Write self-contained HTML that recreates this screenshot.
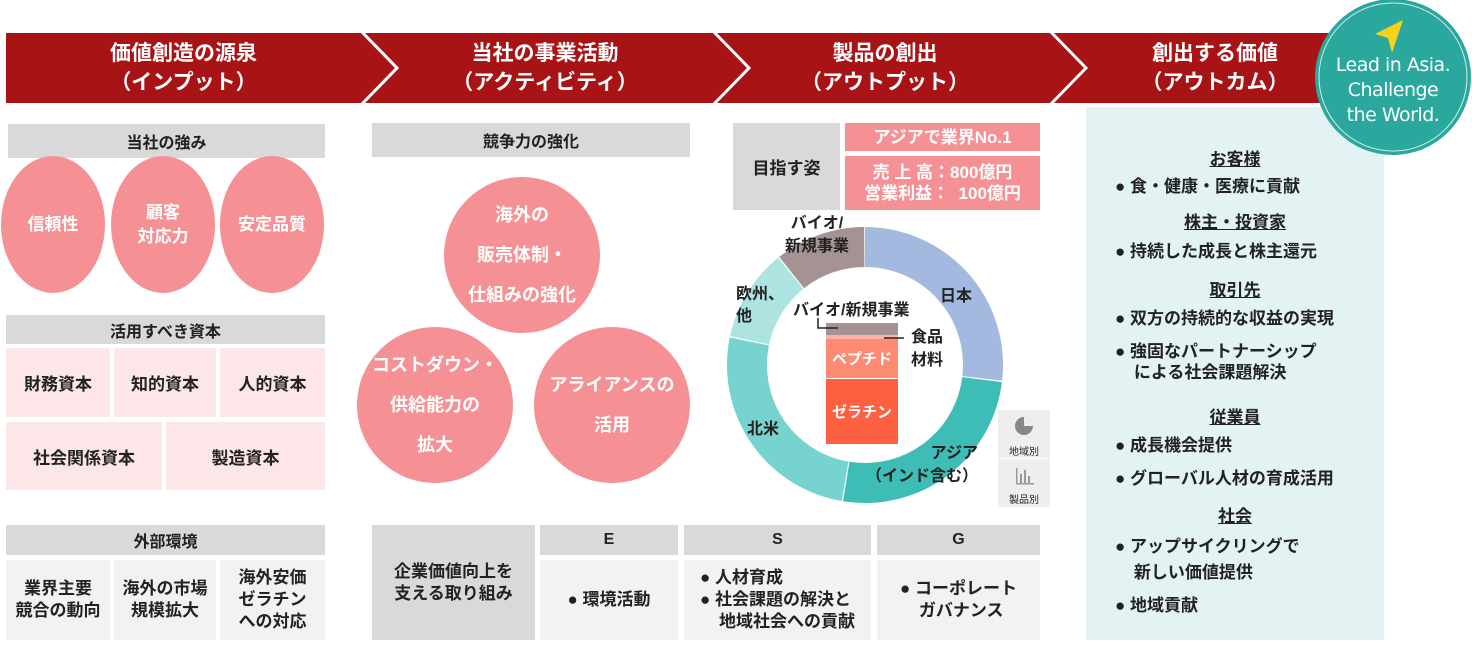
<!DOCTYPE html>
<html><head><meta charset="utf-8"><style>
body{margin:0;width:1472px;height:645px;background:#fff;font-family:"Liberation Sans","Noto Sans CJK JP",sans-serif;font-weight:bold;color:#222;position:relative;overflow:hidden}
.a{position:absolute;display:flex;align-items:center;justify-content:center;text-align:center;box-sizing:border-box}
.g{background:#d9d9d9;font-size:16px}
.pc{background:#fce6e7;font-size:17px}
.lc{background:#f2f2f2;font-size:16px;line-height:22px}
.c{background:#f59194;color:#fff;border-radius:50%;font-size:17px;line-height:24px}
.big{font-size:18px;line-height:40px}
.pk{background:#f59194;color:#fff;font-size:17px;line-height:21px}
.h{color:#fff;font-size:21px;line-height:29px}
.r{position:absolute;left:1115px;font-size:17px;line-height:21px}
.rc{position:absolute;left:1086px;width:298px;text-align:center;text-decoration:underline;font-size:17px}
</style></head><body>
<svg width="1472" height="645" style="position:absolute;left:0;top:0">
<rect x="6" y="33" width="1330" height="70" fill="#a81416"/>
<polyline points="361,31 397,68 361,105" fill="none" stroke="#fff" stroke-width="3"/>
<polyline points="713,31 749,68 713,105" fill="none" stroke="#fff" stroke-width="3"/>
<polyline points="1050,31 1086,68 1050,105" fill="none" stroke="#fff" stroke-width="3"/>
<rect x="1086" y="107" width="298" height="533" fill="#e3f3f3"/>
<g transform="rotate(-90 865 365)" fill="none" stroke-width="40">
<circle cx="865" cy="365" r="118" stroke="#a3b9e0" stroke-dasharray="198.8 543" stroke-dashoffset="0"/>
<circle cx="865" cy="365" r="118" stroke="#3dbdb5" stroke-dasharray="189.4 552" stroke-dashoffset="-200"/>
<circle cx="865" cy="365" r="118" stroke="#77d3cf" stroke-dasharray="189 552" stroke-dashoffset="-390.6"/>
<circle cx="865" cy="365" r="118" stroke="#ade3e1" stroke-dasharray="80 661" stroke-dashoffset="-580.8"/>
<circle cx="865" cy="365" r="118" stroke="#a49392" stroke-dasharray="78.4 663" stroke-dashoffset="-662"/>
</g>
<rect x="826" y="323" width="72" height="12" fill="#a49392"/>
<rect x="826" y="335" width="72" height="4" fill="#fdb3a5"/>
<rect x="826" y="339" width="72" height="39" fill="#fd8b73"/>
<rect x="826" y="379" width="72" height="65" fill="#fd6141"/>
<polyline points="818,318 818,328 838,328" fill="none" stroke="#222" stroke-width="1.5"/>
<line x1="884" y1="338" x2="904" y2="338" stroke="#222" stroke-width="1.5"/>
<rect x="998" y="410" width="52" height="48" fill="#eee"/>
<rect x="998" y="459" width="52" height="48" fill="#eee"/>
<circle cx="1024" cy="426" r="9" fill="#888"/>
<path d="M1024 426 L1024 417 A9 9 0 0 1 1033 426 Z" fill="#eee"/>
<g fill="#999"><rect x="1016" y="468" width="1.5" height="16"/><rect x="1016" y="483" width="18" height="1.5"/><rect x="1020" y="474" width="2" height="9"/><rect x="1024" y="470" width="2" height="13"/><rect x="1028" y="476" width="2" height="7"/></g>
<circle cx="1393" cy="77" r="78" fill="#2aa89e"/>
<circle cx="1393" cy="77" r="74" fill="none" stroke="#fff" stroke-width="1" opacity=".8"/>
<polygon points="1403,20 1375,34 1388,38 1392,53" fill="#f7d218"/>
</svg>
<div class="a h" style="left:6px;top:37px;width:355px;height:62px">価値創造の源泉<br>（インプット）</div>
<div class="a h" style="left:370px;top:37px;width:350px;height:62px">当社の事業活動<br>（アクティビティ）</div>
<div class="a h" style="left:720px;top:37px;width:330px;height:62px">製品の創出<br>（アウトプット）</div>
<div class="a h" style="left:1070px;top:37px;width:290px;height:62px">創出する価値<br>（アウトカム）</div>
<div class="a" style="left:1315px;top:48px;width:156px;height:84px;color:#fff;font-family:'DejaVu Sans',sans-serif;font-weight:normal;font-size:19px;line-height:25px;letter-spacing:-0.5px">Lead in Asia.<br>Challenge<br>the World.</div>

<div class="a g" style="left:8px;top:124px;width:317px;height:34px">当社の強み</div>
<div class="a c" style="left:1px;top:156px;width:104px;height:137px">信頼性</div>
<div class="a c" style="left:111px;top:156px;width:104px;height:137px">顧客<br>対応力</div>
<div class="a c" style="left:220px;top:156px;width:104px;height:137px">安定品質</div>
<div class="a g" style="left:6px;top:315px;width:319px;height:29px">活用すべき資本</div>
<div class="a pc" style="left:6px;top:348px;width:104px;height:69px">財務資本</div>
<div class="a pc" style="left:114px;top:348px;width:102px;height:69px">知的資本</div>
<div class="a pc" style="left:220px;top:348px;width:105px;height:69px">人的資本</div>
<div class="a pc" style="left:6px;top:422px;width:156px;height:68px">社会関係資本</div>
<div class="a pc" style="left:166px;top:422px;width:159px;height:68px">製造資本</div>
<div class="a g" style="left:6px;top:525px;width:319px;height:30px">外部環境</div>
<div class="a lc" style="left:6px;top:560px;width:104px;height:80px;font-size:17px">業界主要<br>競合の動向</div>
<div class="a lc" style="left:114px;top:560px;width:102px;height:80px;font-size:17px">海外の市場<br>規模拡大</div>
<div class="a lc" style="left:220px;top:560px;width:105px;height:80px;font-size:17px">海外安価<br>ゼラチン<br>への対応</div>

<div class="a g" style="left:372px;top:123px;width:318px;height:34px">競争力の強化</div>
<div class="a c big" style="left:444px;top:177px;width:156px;height:156px">海外の<br>販売体制・<br>仕組みの強化</div>
<div class="a c big" style="left:357px;top:327px;width:156px;height:156px">コストダウン・<br>供給能力の<br>拡大</div>
<div class="a c big" style="left:534px;top:327px;width:156px;height:156px">アライアンスの<br>活用</div>
<div class="a g" style="left:372px;top:525px;width:163px;height:115px;line-height:22px;font-size:17px">企業価値向上を<br>支える取り組み</div>
<div class="a g" style="left:540px;top:525px;width:138px;height:30px">E</div>
<div class="a g" style="left:684px;top:525px;width:187px;height:30px">S</div>
<div class="a g" style="left:877px;top:525px;width:163px;height:30px">G</div>
<div class="a lc" style="left:540px;top:560px;width:138px;height:80px;font-size:17px">● 環境活動</div>
<div class="a lc" style="left:684px;top:560px;width:187px;height:80px;text-align:left;font-size:17px">● 人材育成<br>● 社会課題の解決と<br>&nbsp;&nbsp;&nbsp;&nbsp;地域社会への貢献</div>
<div class="a lc" style="left:877px;top:560px;width:163px;height:80px;text-align:left;font-size:17px">● コーポレート<br>&nbsp;&nbsp;&nbsp;&nbsp;ガバナンス</div>

<div class="a g" style="left:733px;top:123px;width:107px;height:87px;font-size:17px">目指す姿</div>
<div class="a pk" style="left:845px;top:123px;width:195px;height:28px">アジアで業界No.1</div>
<div class="a pk" style="left:845px;top:156px;width:195px;height:54px">売 上 高：800億円<br>営業利益：&nbsp;&nbsp;100億円</div>
<div style="position:absolute;left:785px;top:212px;font-size:16px;line-height:23px;text-align:center">バイオ/<br>新規事業</div>
<div style="position:absolute;left:736px;top:284px;font-size:16px;line-height:22px">欧州、<br>他</div>
<div style="position:absolute;left:940px;top:282px;font-size:16px">日本</div>
<div style="position:absolute;left:747px;top:415px;font-size:16px">北米</div>
<div style="position:absolute;left:866px;top:442px;font-size:16px;line-height:23px;text-align:right">アジア<br>（インド含む）</div>
<div style="position:absolute;left:793px;top:296px;font-size:16px">バイオ/新規事業</div>
<div style="position:absolute;left:911px;top:326px;font-size:16px;line-height:23px">食品<br>材料</div>
<div class="a" style="left:826px;top:339px;width:72px;height:39px;color:#fff;font-size:15px">ペプチド</div>
<div class="a" style="left:826px;top:379px;width:72px;height:65px;color:#fff;font-size:15px">ゼラチン</div>
<div class="a" style="left:998px;top:442px;width:52px;height:16px;font-size:10px;font-weight:normal">地域別</div>
<div class="a" style="left:998px;top:490px;width:52px;height:16px;font-size:10px;font-weight:normal">製品別</div>

<div class="rc" style="top:145px">お客様</div>
<div class="r" style="top:176px">● 食・健康・医療に貢献</div>
<div class="rc" style="top:208px">株主・投資家</div>
<div class="r" style="top:241px">● 持続した成長と株主還元</div>
<div class="rc" style="top:276px">取引先</div>
<div class="r" style="top:308px">● 双方の持続的な収益の実現</div>
<div class="r" style="top:341px">● 強固なパートナーシップ<br>&nbsp;&nbsp;&nbsp;&nbsp;による社会課題解決</div>
<div class="rc" style="top:403px">従業員</div>
<div class="r" style="top:435px">● 成長機会提供</div>
<div class="r" style="top:468px">● グローバル人材の育成活用</div>
<div class="rc" style="top:502px">社会</div>
<div class="r" style="top:534px;line-height:26px">● アップサイクリングで<br>&nbsp;&nbsp;&nbsp;&nbsp;新しい価値提供</div>
<div class="r" style="top:595px">● 地域貢献</div>
</body></html>
